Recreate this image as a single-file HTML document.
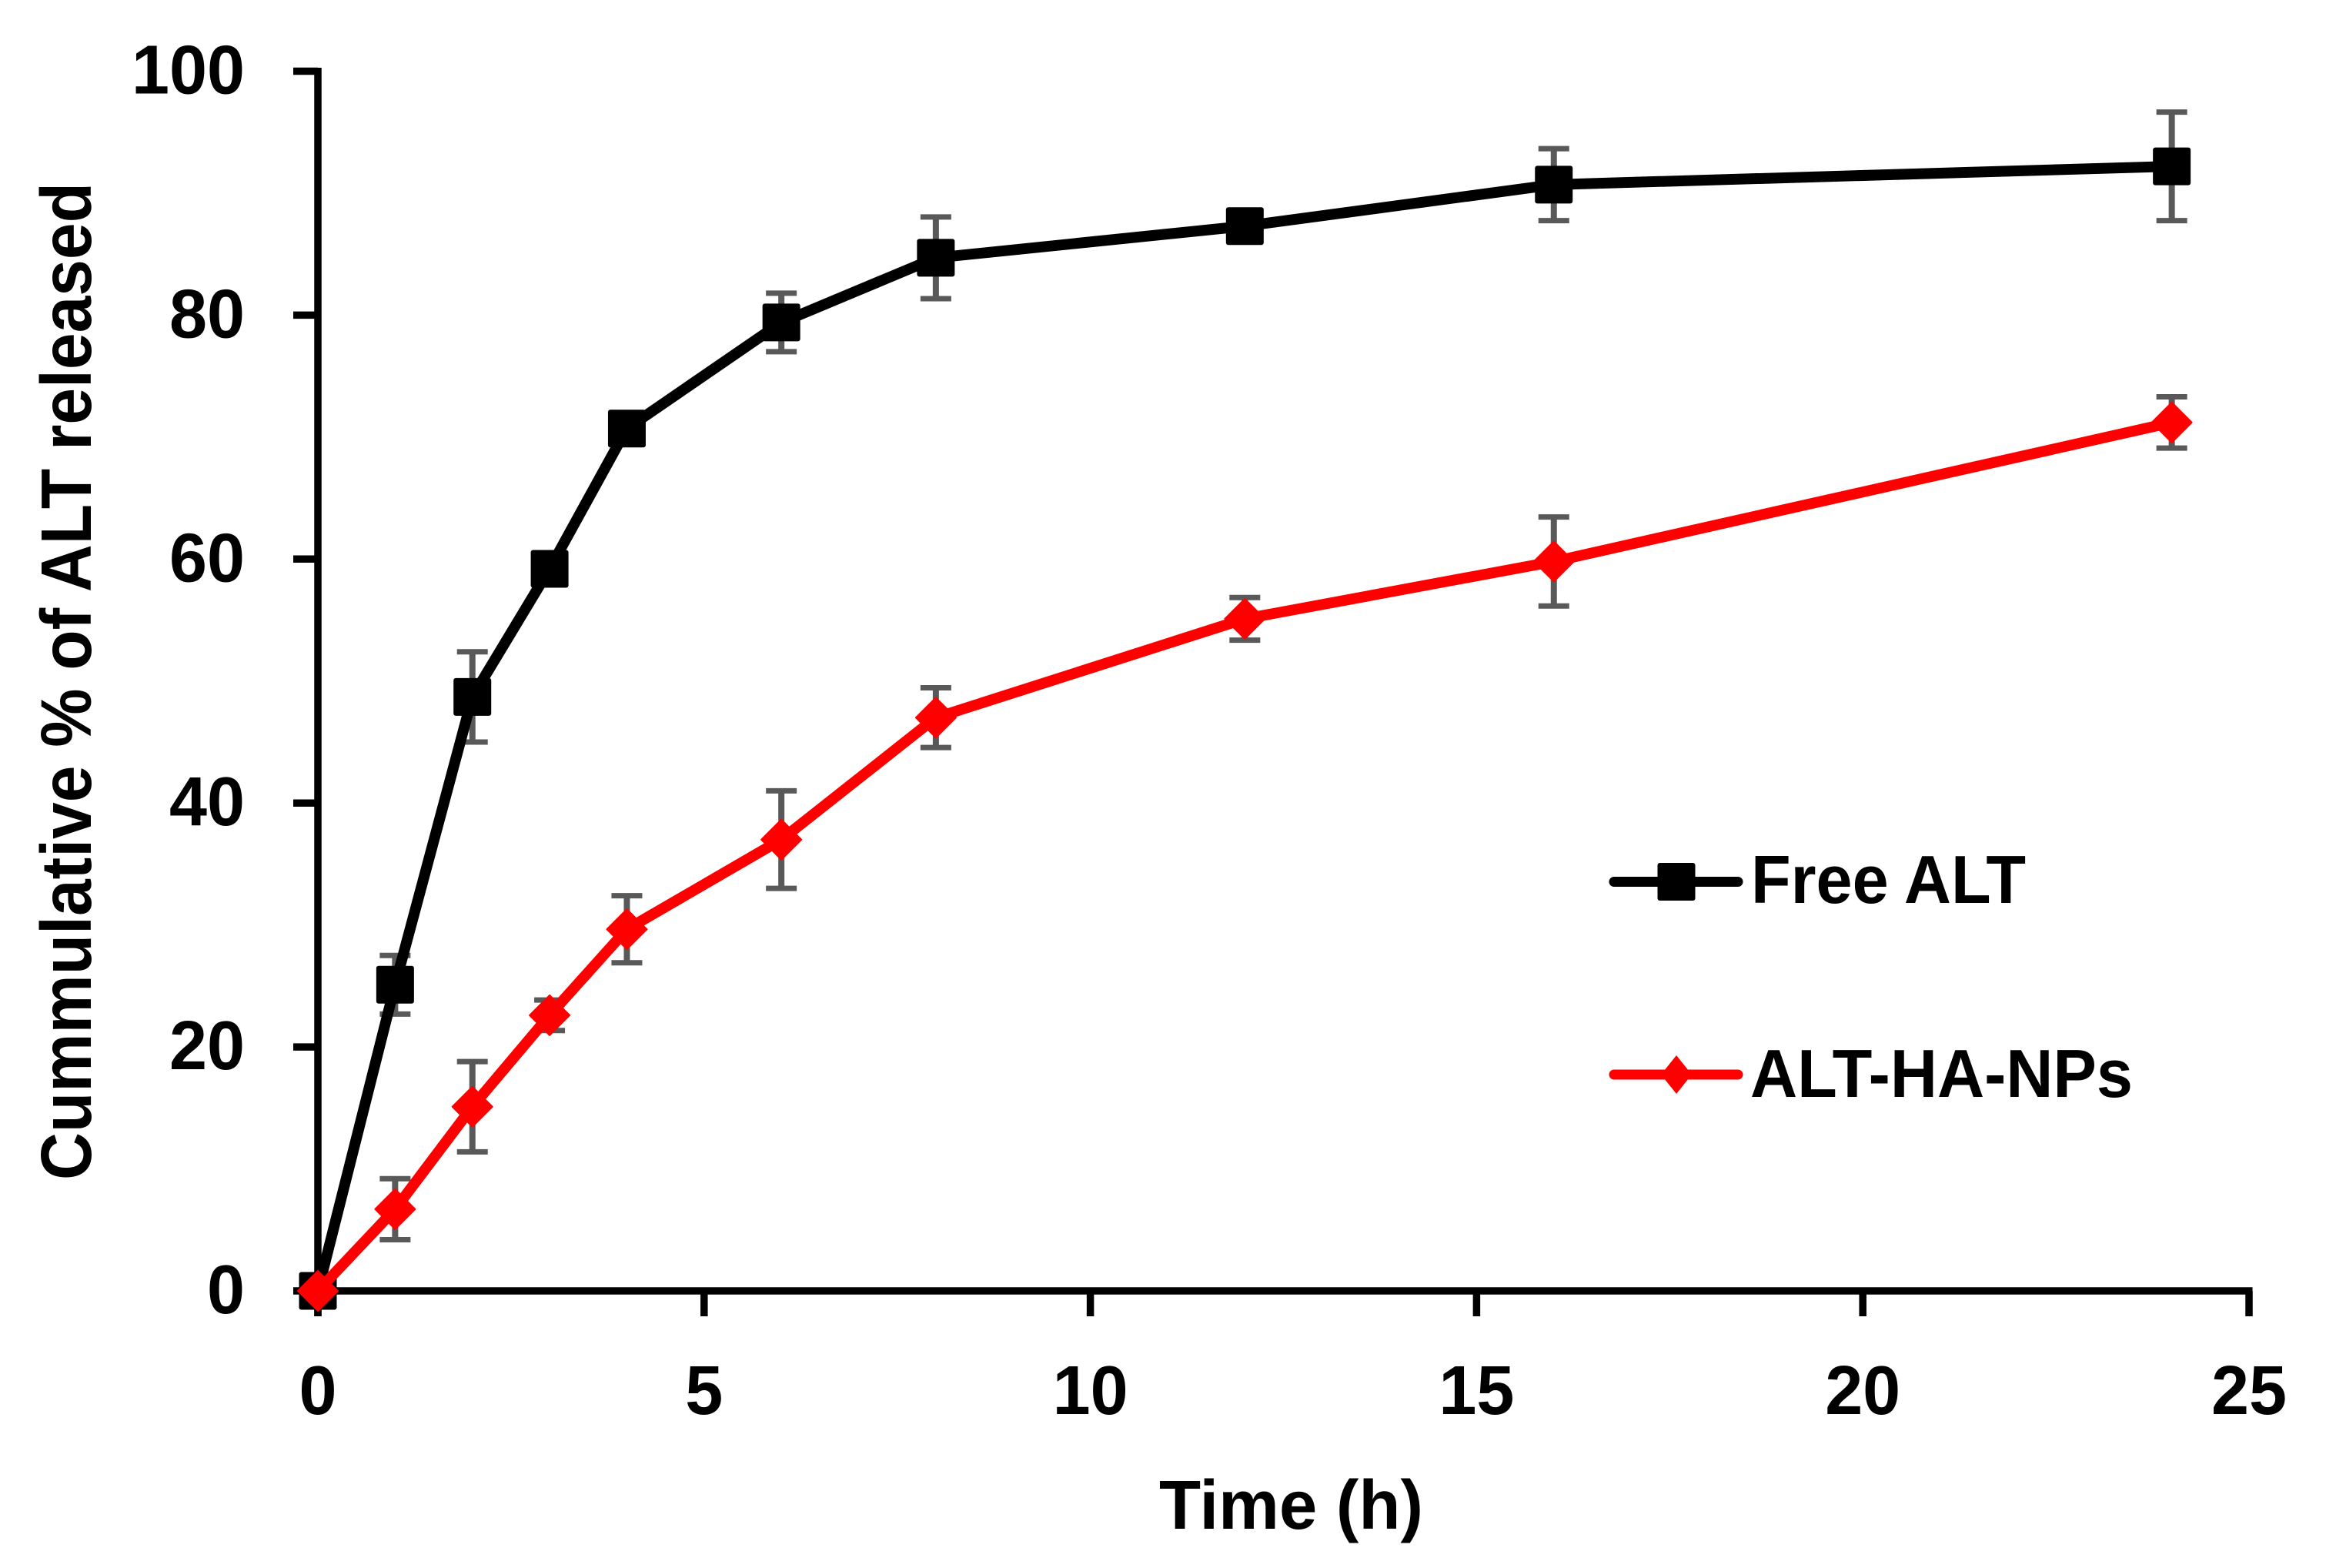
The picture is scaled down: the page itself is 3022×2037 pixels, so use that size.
<!DOCTYPE html>
<html lang="en">
<head>
<meta charset="utf-8">
<title>Cummulative release of ALT</title>
<style>
html,body{margin:0;padding:0;background:#fff;}
svg{display:block;}
text{font-family:"Liberation Sans",sans-serif;font-weight:bold;fill:#000;}
</style>
</head>
<body>
<svg id="chart" xmlns="http://www.w3.org/2000/svg" width="3022" height="2037" viewBox="0 0 3022 2037">
  <rect x="0" y="0" width="3022" height="2037" fill="#fff"/>
  <g id="axes"></g>
  <g id="errors"></g>
  <g id="series"></g>
  <text transform="translate(118,1533) rotate(-90)" font-size="93" textLength="1296" lengthAdjust="spacingAndGlyphs">Cummulative % of ALT released</text>
  <text x="1506" y="1986" font-size="90" textLength="343" lengthAdjust="spacingAndGlyphs">Time (h)</text>
  <g>
    <g>
      <line x1="2097" y1="1145.5" x2="2258" y2="1145.5" stroke="#000" stroke-width="13" stroke-linecap="round"/>
      <rect x="2153.5" y="1121" width="49" height="49" rx="3" fill="#000"/>
      <text x="2275" y="1173" font-size="88" textLength="357" lengthAdjust="spacingAndGlyphs">Free ALT</text>
    </g>
    <g>
      <line x1="2097" y1="1396" x2="2258" y2="1396" stroke="#f00" stroke-width="13" stroke-linecap="round"/>
      <polygon points="2178,1371 2198,1396 2178,1421 2158,1396" fill="#f00"/>
      <text x="2274" y="1425" font-size="88" textLength="497" lengthAdjust="spacingAndGlyphs">ALT-HA-NPs</text>
    </g>
  </g>
</svg>
<script>
const timeHours = [0, 1, 2, 3, 4, 6, 8, 12, 16, 24];
const freeAltValues = [0, 25.1, 48.7, 59.2, 70.7, 79.4, 84.7, 87.3, 90.7, 92.2];
const freeAltErrors = [0, 2.4, 3.7, 0.8, 0.8, 2.4, 3.35, 0.8, 2.95, 4.45];
const altHaNpsValues = [0, 6.7, 15.1, 22.6, 29.65, 37.0, 47.0, 55.1, 59.8, 71.2];
const altHaNpsErrors = [0, 2.5, 3.7, 1.25, 2.75, 4.0, 2.45, 1.75, 3.65, 2.1];
const xTickValues = [0, 5, 10, 15, 20, 25];
const yTickValues = [0, 20, 40, 60, 80, 100];

const SVG_NS = 'http://www.w3.org/2000/svg';
const plotLeft = 413, plotRight = 2922, plotBottom = 1677, plotTop = 92.5;
const xMax = 25, yMax = 100;
const digitWidth = 49;

function xScale(v) { return plotLeft + (v / xMax) * (plotRight - plotLeft); }
function yScale(v) { return plotBottom - (v / yMax) * (plotBottom - plotTop); }

function make(tag, parent, attrs) {
  const el = document.createElementNS(SVG_NS, tag);
  for (const k in attrs) el.setAttribute(k, attrs[k]);
  parent.appendChild(el);
  return el;
}

const axes = document.getElementById('axes');
const errorsGroup = document.getElementById('errors');
const seriesGroup = document.getElementById('series');

const yAxisLine = make('line', axes, {x1: plotLeft, y1: plotTop - 4.5, x2: plotLeft, y2: plotBottom + 33, stroke: '#000', 'stroke-width': 9.5});



const xAxisLine = make('line', axes, {x1: plotLeft, y1: plotBottom, x2: plotRight + 4.5, y2: plotBottom, stroke: '#000', 'stroke-width': 9.5});



yTickValues.forEach(function (v) {
  const y = yScale(v);
  const tick = make('line', axes, {x1: 381, y1: y, x2: plotLeft, y2: y, stroke: '#000', 'stroke-width': 9.5});
  
  
  const text = String(v);
  const label = make('text', axes, {x: 318, y: y + 29, 'font-size': 90, 'text-anchor': 'end', textLength: text.length * digitWidth, lengthAdjust: 'spacingAndGlyphs'});
  label.textContent = text;
  
  
});

xTickValues.forEach(function (v) {
  const x = xScale(v);
  const tick = make('line', axes, {x1: x, y1: plotBottom, x2: x, y2: plotBottom + 33, stroke: '#000', 'stroke-width': 9.5});
  
  
  const text = String(v);
  const label = make('text', axes, {x: x, y: 1837, 'font-size': 90, 'text-anchor': 'middle', textLength: text.length * digitWidth, lengthAdjust: 'spacingAndGlyphs'});
  label.textContent = text;
  
  
});

function drawErrors(key, values, errs) {
  timeHours.forEach(function (t, i) {
    if (errs[i] === 0) return;
    const x = xScale(t);
    const top = yScale(values[i] + errs[i]);
    const bottom = yScale(values[i] - errs[i]);
    const g = make('g', errorsGroup, {stroke: '#595959', fill: 'none'});
    
    
    make('line', g, {x1: x, y1: top, x2: x, y2: bottom, 'stroke-width': 8});
    make('line', g, {x1: x - 20, y1: top, x2: x + 20, y2: top, 'stroke-width': 7});
    make('line', g, {x1: x - 20, y1: bottom, x2: x + 20, y2: bottom, 'stroke-width': 7});
  });
}

function drawLine(key, values, color) {
  const pts = timeHours.map(function (t, i) { return xScale(t) + ',' + yScale(values[i]); }).join(' ');
  const line = make('polyline', seriesGroup, {points: pts, fill: 'none', stroke: color, 'stroke-width': 14, 'stroke-linejoin': 'round'});
  
  
}

function drawSquares(key, values, color) {
  timeHours.forEach(function (t, i) {
    const x = xScale(t), y = yScale(values[i]);
    const m = make('rect', seriesGroup, {x: x - 24.5, y: y - 24.5, width: 49, height: 49, rx: 3, fill: color});
    
    
  });
}

function drawDiamonds(key, values, color) {
  timeHours.forEach(function (t, i) {
    const x = xScale(t), y = yScale(values[i]), r = 26;
    const p = [[x, y - r], [x + r, y], [x, y + r], [x - r, y]].map(function (c) { return c.join(','); }).join(' ');
    const m = make('polygon', seriesGroup, {points: p, fill: color, stroke: color, 'stroke-width': 2, 'stroke-linejoin': 'round'});
    
    
  });
}

drawErrors('free-alt', freeAltValues, freeAltErrors);
drawErrors('alt-ha-nps', altHaNpsValues, altHaNpsErrors);
drawLine('free-alt', freeAltValues, '#000');
drawSquares('free-alt', freeAltValues, '#000');
drawLine('alt-ha-nps', altHaNpsValues, '#f00');
drawDiamonds('alt-ha-nps', altHaNpsValues, '#f00');
</script>
</body>
</html>
